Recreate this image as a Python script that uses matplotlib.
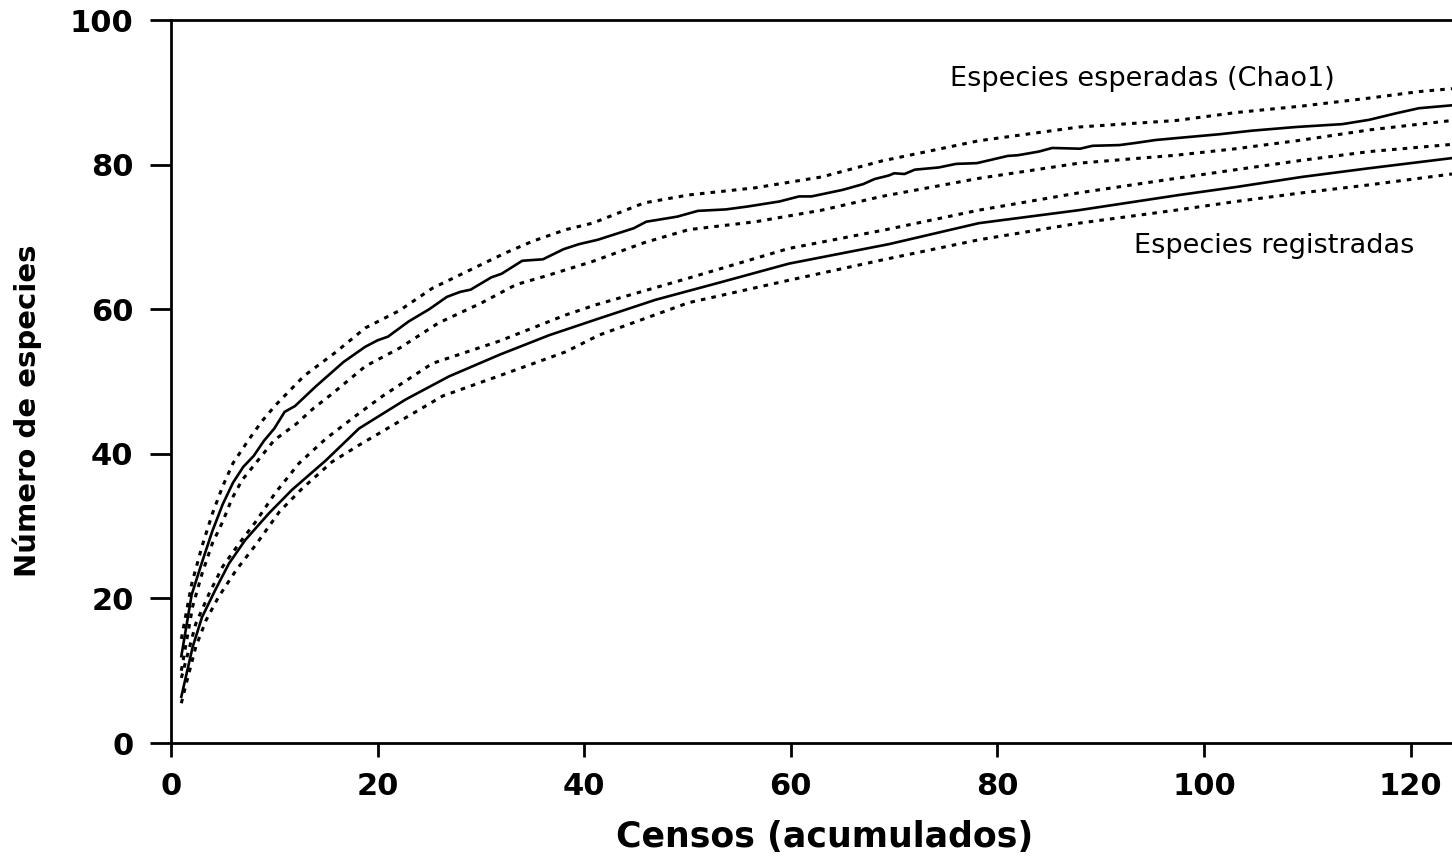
import matplotlib
matplotlib.use("Agg")
import matplotlib.pyplot as plt

plt.rcParams['font.family'] = ['DejaVu Sans']

# Chao1 expected species (mean, jagged curve)
chao_x = [1, 2, 3, 4, 5, 6, 7, 8, 9, 10, 11, 12, 14, 16.7, 18.8, 20, 21, 23, 25, 26.7,
          28, 29, 31, 32, 34, 36, 38, 39.5, 41.3, 44.8, 46, 49, 51, 53.7, 55.8, 58.9,
          60.8, 62, 65, 67, 68.1, 69.5, 70, 71, 72, 74.3, 76, 78, 81, 82, 84, 85.3, 88,
          89.2, 91.8, 93.4, 95.3, 97.6, 101.5, 104.7, 108.9, 113.4, 116, 118.6, 120.8, 124]
chao_y = [12.0, 20.5, 25.0, 29.3, 33.0, 36.0, 38.2, 39.7, 41.8, 43.5, 45.8, 46.6, 49.3,
          52.7, 54.8, 55.7, 56.2, 58.3, 60.0, 61.7, 62.4, 62.7, 64.4, 64.9, 66.7, 66.9,
          68.3, 69.0, 69.6, 71.2, 72.1, 72.8, 73.6, 73.8, 74.2, 74.9, 75.6, 75.6, 76.5,
          77.3, 78.0, 78.5, 78.8, 78.7, 79.3, 79.6, 80.1, 80.2, 81.2, 81.3, 81.8, 82.3,
          82.2, 82.6, 82.7, 83.0, 83.4, 83.7, 84.2, 84.7, 85.2, 85.6, 86.2, 87.1, 87.8, 88.2]

# Chao1 confidence limits
chao_up_x = [1, 2, 3, 4, 5, 6, 7.5, 8.8, 10.1, 12.9, 15.9, 18.8, 22.1, 25.3, 29.2, 32.4,
             35, 38.2, 40.8, 45.8, 50.1, 56.6, 63, 68.8, 78.2, 87.9, 97.3, 103.1, 109.5,
             116, 120.8, 124]
chao_up_y = [14.4, 22.0, 27.2, 31.7, 35.5, 38.7, 41.9, 44.5, 46.7, 50.8, 54.0, 57.4, 59.8,
             62.9, 65.6, 67.8, 69.4, 71.0, 71.9, 74.7, 75.8, 76.8, 78.3, 80.5, 83.3, 85.2,
             86.1, 87.2, 88.1, 89.2, 90.1, 90.5]
chao_lo_x = [1, 2.1, 3, 4, 5, 5.9, 6.9, 8.2, 10, 12.1, 13.8, 15.6, 18.8, 22.1, 25.9, 30.1,
             33.4, 36.3, 40.8, 45.8, 50.1, 56.6, 63, 68.8, 78.2, 87.9, 97.3, 103.1, 109.5,
             116, 124]
chao_lo_y = [10.0, 18.9, 23.4, 27.6, 30.6, 33.8, 36.4, 38.7, 41.9, 44.1, 46.3, 48.3, 52.1,
             54.6, 58.1, 60.9, 63.4, 64.6, 66.6, 69.2, 71.0, 72.1, 73.7, 75.6, 78.1, 80.2,
             81.3, 82.2, 83.4, 84.8, 86.1]

# Observed species (mean, smooth curve)
sobs_x = [1, 2.1, 3, 4.3, 5.6, 7.2, 9.5, 11.7, 15, 18.2, 22.7, 26.9, 31.8, 36.6, 41.4,
          46.9, 53.4, 59.8, 69.5, 78.2, 87.9, 97.6, 103.1, 109.5, 116, 124]
sobs_y = [6.4, 13.3, 17.4, 21.2, 24.8, 28.1, 31.8, 35.0, 39.1, 43.5, 47.5, 50.7, 53.7,
          56.4, 58.7, 61.3, 63.8, 66.3, 69.0, 71.9, 73.7, 75.8, 76.9, 78.3, 79.5, 80.9]

# Observed species confidence limits
sobs_up_x = [1, 2.4, 3.7, 5, 6.6, 8.2, 10.1, 12.4, 15, 18.2, 20.5, 25.3, 31.8, 38.2, 41.1,
             50.1, 59.8, 69.2, 78.2, 87.9, 97.3, 103.1, 109.5, 116, 124]
sobs_up_y = [9.0, 16.5, 20.7, 24.4, 27.6, 30.6, 34.6, 38.7, 42.1, 45.6, 48.0, 52.5, 55.6,
             59.2, 60.6, 64.3, 68.4, 71.0, 73.7, 76.1, 78.1, 79.3, 80.6, 81.8, 82.8]
sobs_lo_x = [1, 1.4, 2.4, 3.4, 4.6, 6.3, 8.2, 10.5, 12.7, 15.6, 18.2, 26.3, 31.8, 38.2,
             41.4, 50.1, 59.8, 68.8, 78.2, 87.9, 97.3, 103.1, 109.5, 116, 124]
sobs_lo_y = [5.5, 7.8, 13.3, 17.0, 20.2, 23.9, 27.4, 32.0, 35.2, 38.9, 41.2, 48.0, 50.8,
             54.1, 56.4, 60.9, 64.0, 66.8, 69.6, 71.9, 73.7, 74.9, 76.1, 77.2, 78.7]

x_ticks = [0, 20, 40, 60, 80, 100, 120]
y_ticks = [0, 20, 40, 60, 80, 100]

fig = plt.figure(figsize=(14.52, 8.63), dpi=100)
ax = fig.add_axes([171 / 1452, 120 / 863, 1 - 171 / 1452, 723 / 863])

solid = dict(color='black', lw=1.9, solid_joinstyle='miter')
dotted = dict(color='black', lw=2.2, linestyle=(0, (1.5, 2.0)), dash_capstyle='butt')

ax.plot(chao_x, chao_y, **solid)
ax.plot(chao_up_x, chao_up_y, **dotted)
ax.plot(chao_lo_x, chao_lo_y, **dotted)
ax.plot(sobs_x, sobs_y, **solid)
ax.plot(sobs_up_x, sobs_up_y, **dotted)
ax.plot(sobs_lo_x, sobs_lo_y, **dotted)

ax.text(75.4, 91.9, 'Especies esperadas (Chao1)', fontsize=19.5, va='center', ha='left')
ax.text(93.2, 68.7, 'Especies registradas', fontsize=19.5, va='center', ha='left')

ax.set_xlim(0, 124)
ax.set_ylim(0, 100)
ax.set_xticks(x_ticks)
ax.set_yticks(y_ticks)
ax.set_xticklabels([str(t) for t in x_ticks], fontsize=22, fontweight='bold')
ax.set_yticklabels([str(t) for t in y_ticks], fontsize=22, fontweight='bold')
ax.tick_params(axis='x', direction='out', length=10, width=2, pad=11)
ax.tick_params(axis='y', direction='out', length=15, width=2, pad=12)

ax.spines['right'].set_visible(False)
for s in ['left', 'bottom', 'top']:
    ax.spines[s].set_linewidth(2)

ax.set_xlabel('Censos (acumulados)', fontsize=25, fontweight='bold')
ax.set_ylabel('Número de especies', fontsize=21, fontweight='bold')
ax.xaxis.set_label_coords((825 - 171) / 1281, -(837 - 743) / 723)
ax.yaxis.set_label_coords(-(171 - 27) / 1281, (743 - 411) / 723)
ax.xaxis.label.set_va('center')
ax.yaxis.label.set_va('center')

fig.savefig('out.png', dpi=100)
